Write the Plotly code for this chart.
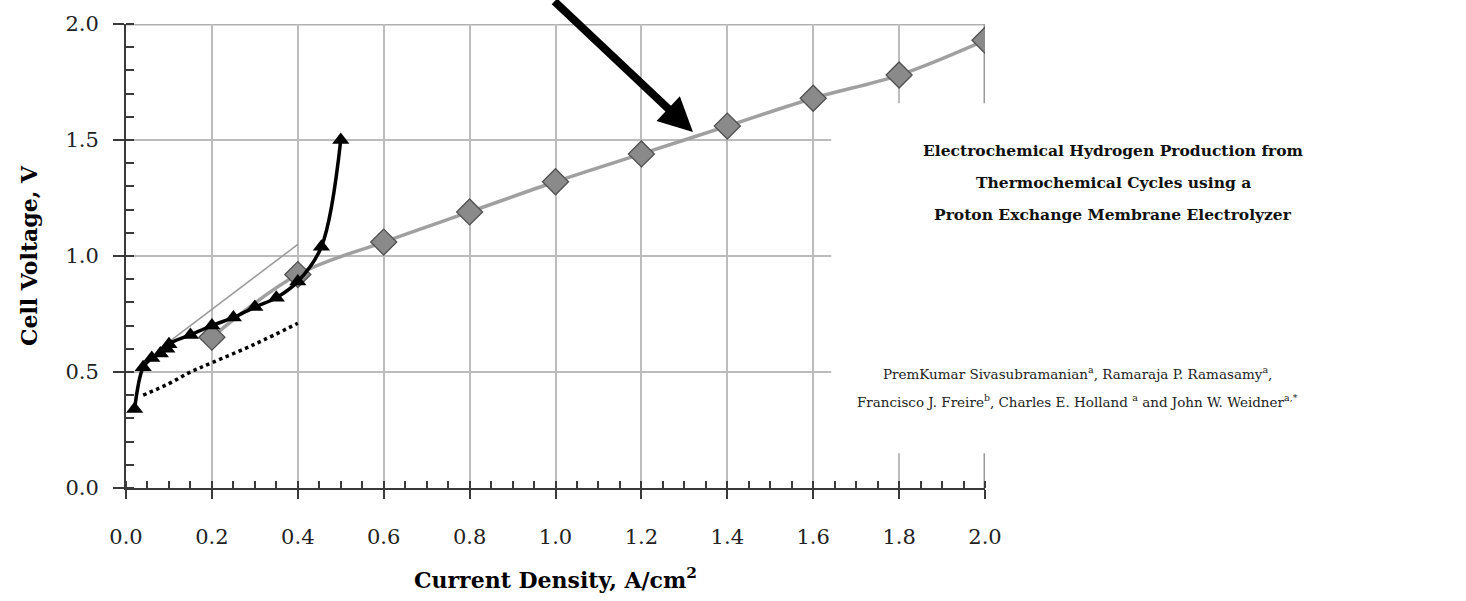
import plotly.graph_objects as go

# ---- data ----
gray_x = [0.2, 0.4, 0.6, 0.8, 1.0, 1.2, 1.4, 1.6, 1.8, 2.0]
gray_y = [0.65, 0.92, 1.06, 1.19, 1.32, 1.44, 1.56, 1.68, 1.78, 1.93]

black_x = [0.02, 0.04, 0.06, 0.08, 0.095, 0.10, 0.15, 0.20, 0.25, 0.30, 0.35, 0.40, 0.455, 0.50]
black_y = [0.34, 0.52, 0.56, 0.58, 0.60, 0.62, 0.66, 0.70, 0.735, 0.78, 0.82, 0.89, 1.04, 1.50]

dot_x = [0.04, 0.10, 0.15, 0.20, 0.30, 0.40]
dot_y = [0.40, 0.45, 0.50, 0.54, 0.62, 0.71]

thin_x = [0.10, 0.20, 0.40]
thin_y = [0.63, 0.77, 1.05]

x_ticks = [0.0, 0.2, 0.4, 0.6, 0.8, 1.0, 1.2, 1.4, 1.6, 1.8, 2.0]
y_ticks = [0.0, 0.5, 1.0, 1.5, 2.0]

title_lines = ["Electrochemical Hydrogen Production from",
               "Thermochemical Cycles using a",
               "Proton Exchange Membrane Electrolyzer"]
author_lines = ["PremKumar Sivasubramanian<sup>a</sup>, Ramaraja P. Ramasamy<sup>a</sup>,",
                "Francisco J. Freire<sup>b</sup>, Charles E. Holland <sup>a</sup> and John W. Weidner<sup>a,*</sup>"]

SERIF = "DejaVu Serif"

fig = go.Figure()
fig.add_trace(go.Scatter(x=thin_x, y=thin_y, mode="lines",
                         line=dict(color="#9a9a9a", width=1.5), showlegend=False))
fig.add_trace(go.Scatter(x=gray_x, y=gray_y, mode="lines+markers",
                         line=dict(color="#a0a0a0", width=3.5, shape="spline"),
                         marker=dict(symbol="diamond", size=20, color="#8a8a8a",
                                     line=dict(color="#505050", width=1.3)),
                         showlegend=False))
fig.add_trace(go.Scatter(x=dot_x, y=dot_y, mode="lines",
                         line=dict(color="black", width=3.5, dash="dot", shape="spline"),
                         showlegend=False))
fig.add_trace(go.Scatter(x=black_x, y=black_y, mode="lines+markers",
                         line=dict(color="black", width=3.5, shape="spline"),
                         marker=dict(symbol="triangle-up", size=15, color="black"),
                         showlegend=False))

# frame lines top and right
fig.add_shape(type="line", xref="x", yref="y", x0=0, x1=2.0, y0=2.0, y1=2.0,
              line=dict(color="#b0b0b0", width=3), layer="below")
fig.add_shape(type="line", xref="x", yref="y", x0=2.0, x1=2.0, y0=0, y1=2.0,
              line=dict(color="#9a9a9a", width=3), layer="below")

# white panel that hides the right part of the plot where the text sits
fig.add_shape(type="rect", xref="x", yref="y", x0=1.642, x1=2.2, y0=0.15, y1=1.658,
              fillcolor="white", line=dict(width=0), layer="above")

fig.update_xaxes(range=[0, 2.0], tickvals=x_ticks, ticktext=[f"{v:.1f}" for v in x_ticks],
                 showline=True, linecolor="#3a3a3a", linewidth=2,
                 ticks="outside", ticklen=9, tickwidth=2, tickcolor="#3a3a3a",
                 showgrid=True, gridcolor="#bcbcbc", gridwidth=2, zeroline=False,
                 minor=dict(dtick=0.05, ticks="inside", ticklen=7, tickwidth=1.5,
                            tickcolor="#3a3a3a", showgrid=False),
                 tickfont=dict(family=SERIF, size=21, color="#222"),
                 ticklabelstandoff=20,
                 title=dict(text="Current Density, A/cm<sup>2</sup>",
                            font=dict(family=SERIF, size=22, color="black", weight="bold"),
                            standoff=24))
fig.update_yaxes(range=[0, 2.0], tickvals=y_ticks, ticktext=[f"{v:.1f}" for v in y_ticks],
                 showline=True, linecolor="#3a3a3a", linewidth=2,
                 ticks="outside", ticklen=11, tickwidth=2, tickcolor="#3a3a3a",
                 showgrid=True, gridcolor="#bcbcbc", gridwidth=2, zeroline=False,
                 minor=dict(dtick=0.1, ticks="inside", ticklen=8, tickwidth=1.5,
                            tickcolor="#3a3a3a", showgrid=False),
                 tickfont=dict(family=SERIF, size=21, color="#222"),
                 ticklabelstandoff=10,
                 title=dict(text="Cell Voltage, V",
                            font=dict(family=SERIF, size=22, color="black", weight="bold"),
                            standoff=22))

# arrow
fig.add_annotation(x=1.32, y=1.535, xref="x", yref="y", text="", showarrow=True,
                   ax=-140, ay=-140, arrowhead=2, arrowsize=0.85, arrowwidth=8,
                   arrowcolor="black", standoff=0)

PLOT_L, PLOT_R, PLOT_T, PLOT_B = 126, 985, 20, 488
def px(xp):
    return (xp - PLOT_L) / (PLOT_R - PLOT_L)
def py(yp):
    return (PLOT_B - yp) / (PLOT_B - PLOT_T)

for line, ypix in zip(title_lines, [148, 180, 212]):
    fig.add_annotation(x=px(1113), y=py(ypix), xref="paper", yref="paper", text=line,
                       showarrow=False, xanchor="center", yanchor="middle",
                       font=dict(family=SERIF, size=15.5, color="#111", weight="bold"))
for line, ypix in zip(author_lines, [372, 400]):
    fig.add_annotation(x=px(1077), y=py(ypix), xref="paper", yref="paper", text=line,
                       showarrow=False, xanchor="center", yanchor="middle",
                       font=dict(family=SERIF, size=13.5, color="#222"))

fig.update_layout(width=1466, height=601,
                  margin=dict(l=PLOT_L, r=1466 - PLOT_R, t=PLOT_T, b=601 - PLOT_B),
                  paper_bgcolor="white", plot_bgcolor="white", showlegend=False)

fig.write_html("out.html")
